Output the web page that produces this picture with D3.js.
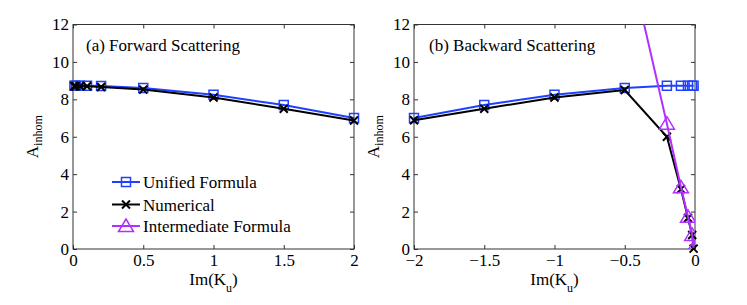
<!DOCTYPE html>
<html><head><meta charset="utf-8">
<script src="https://cdn.jsdelivr.net/npm/d3@7/dist/d3.min.js"></script>
<style>body{margin:0;background:#fff}svg{display:block}svg text{font-family:'Liberation Serif','Times New Roman',Times,serif !important;fill:#000}</style>
</head><body>
<script>
// ---- data ----
const fwdX = [0.01, 0.02, 0.05, 0.1, 0.2, 0.5, 1, 1.5, 2];
const fwdUnified = [8.72, 8.72, 8.72, 8.72, 8.71, 8.6, 8.24, 7.7, 7.0];
const fwdNumerical = [8.7, 8.7, 8.7, 8.7, 8.66, 8.52, 8.1, 7.5, 6.87];

const bwdX = [-2, -1.5, -1, -0.5, -0.2, -0.1, -0.05, -0.02, -0.01];
const bwdUnified = [7.0, 7.7, 8.25, 8.6, 8.72, 8.72, 8.72, 8.72, 8.72];
const bwdNumerical = [6.88, 7.5, 8.1, 8.5, 6.0, 3.2, 1.66, 0.75, 0.02];
const bwdIntermediate = [66, 49.5, 33, 16.5, 6.7, 3.3, 1.72, 0.75, 0.06];
const bwdIntermediateShown = [false, false, false, false, true, true, true, true, true];

const yTicks = [0, 2, 4, 6, 8, 10, 12];
const fwdXTicks = [0, 0.5, 1, 1.5, 2];
const fwdXTickLabels = ["0", "0.5", "1", "1.5", "2"];
const bwdXTicks = [-2, -1.5, -1, -0.5, 0];
const bwdXTickLabels = ["\u22122", "\u22121.5", "\u22121", "\u22120.5", "0"];

const seriesNames = ["Unified Formula", "Numerical", "Intermediate Formula"];
const titles = ["(a) Forward Scattering", "(b) Backward Scattering"];

// ---- style ----
const W = 747, H = 305;
const BLUE = "#2040ff", BLACK = "#000", PURPLE = "#b030ff";
const FS = 17;
const FONT = "'Liberation Serif','Times New Roman',Times,serif";

const svg = d3.select("body").append("svg").attr("width", W).attr("height", H)
  .attr("font-family", FONT);
svg.append("rect").attr("width", W).attr("height", H).attr("fill", "#fff");

const plotTop = 24.5, plotBottom = 249;
const panels = [
  {left: 73, right: 354, domain: [0, 2], ticks: fwdXTicks, labels: fwdXTickLabels, title: titles[0], tdx: 13},
  {left: 414, right: 695, domain: [-2, 0], ticks: bwdXTicks, labels: bwdXTickLabels, title: titles[1], tdx: 15}
];

const markerSquare = "M-4.5,-4.5H4.5V4.5H-4.5Z";
const markerX = "M-4,-4L4,4M-4,4L4,-4";
const markerTri = "M0,-7L7.5,5.5H-7.5Z";

panels.forEach((p, i) => {
  const x = d3.scaleLinear().domain(p.domain).range([p.left, p.right]);
  const y = d3.scaleLinear().domain([0, 12]).range([plotBottom, plotTop]);
  p.x = x; p.y = y;
  const g = svg.append("g");

  const fmt = (d) => p.labels[p.ticks.indexOf(d)];
  const axB = g.append("g").attr("transform", `translate(0,${plotBottom})`)
    .call(d3.axisBottom(x).tickValues(p.ticks).tickFormat(fmt).tickSizeInner(-4).tickSizeOuter(0).tickPadding(5));
  const axT = g.append("g").attr("transform", `translate(0,${plotTop})`)
    .call(d3.axisTop(x).tickValues(p.ticks).tickFormat("").tickSizeInner(-4).tickSizeOuter(0));
  const axL = g.append("g").attr("transform", `translate(${p.left},0)`)
    .call(d3.axisLeft(y).tickValues(yTicks).tickFormat(d3.format("d")).tickSizeInner(-4).tickSizeOuter(0).tickPadding(4));
  const axR = g.append("g").attr("transform", `translate(${p.right},0)`)
    .call(d3.axisRight(y).tickValues(yTicks).tickFormat("").tickSizeInner(-4).tickSizeOuter(0));
  [axB, axT, axL, axR].forEach(a => {
    a.attr("font-family", FONT).attr("font-size", FS);
    a.selectAll("path.domain").remove();
    a.selectAll("line").attr("stroke", "#333");
    a.selectAll("text").attr("font-family", FONT).attr("font-size", FS).attr("fill", "#000");
  });
  g.append("rect").attr("x", p.left).attr("y", plotTop).attr("width", p.right - p.left).attr("height", plotBottom - plotTop)
    .attr("fill", "none").attr("stroke", "#333").attr("stroke-width", 1);

  // title
  g.append("text").attr("x", p.left + p.tdx).attr("y", 51).attr("font-family", FONT).attr("font-size", FS).text(p.title);

  // y label
  const yl = g.append("text").attr("transform", `translate(${p.left - 35},${(plotTop + plotBottom) / 2}) rotate(-90)`)
    .attr("text-anchor", "middle").attr("font-family", FONT).attr("font-size", FS);
  yl.append("tspan").text("A");
  yl.append("tspan").attr("dy", 4).attr("font-size", 12).text("inhom");

  // x label
  const xl = g.append("text").attr("x", (p.left + p.right) / 2).attr("y", 285)
    .attr("text-anchor", "middle").attr("font-family", FONT).attr("font-size", FS);
  xl.append("tspan").text("Im(K");
  xl.append("tspan").attr("dy", 7).attr("font-size", 12).text("u");
  xl.append("tspan").attr("dy", -7).text(")");

  // clip
  svg.append("clipPath").attr("id", "clip" + i).append("rect")
    .attr("x", p.left).attr("y", plotTop).attr("width", p.right - p.left).attr("height", plotBottom - plotTop);
});

function drawSeries(p, xs, ys, color, marker, mw, shown, clipId) {
  const g = svg.append("g");
  if (clipId) g.attr("clip-path", `url(#${clipId})`);
  const line = d3.line().x((d, i) => p.x(xs[i])).y(d => p.y(d));
  g.append("path").datum(ys).attr("d", line).attr("fill", "none").attr("stroke", color).attr("stroke-width", 2);
  ys.forEach((v, i) => {
    if (shown && !shown[i]) return;
    g.append("path").attr("d", marker).attr("transform", `translate(${p.x(xs[i])},${p.y(v)})`)
      .attr("fill", "none").attr("stroke", color).attr("stroke-width", mw);
  });
}

drawSeries(panels[0], fwdX, fwdUnified, BLUE, markerSquare, 1.5);
drawSeries(panels[0], fwdX, fwdNumerical, BLACK, markerX, 2);

drawSeries(panels[1], bwdX, bwdUnified, BLUE, markerSquare, 1.5);
drawSeries(panels[1], bwdX, bwdNumerical, BLACK, markerX, 2);
drawSeries(panels[1], bwdX, bwdIntermediate, PURPLE, markerTri, 1.5, bwdIntermediateShown, "clip1");

// legend (left panel)
const legRows = [182, 204.5, 226];
const legColors = [BLUE, BLACK, PURPLE];
const legMarkers = [markerSquare, markerX, markerTri];
const legMW = [1.5, 2, 1.5];
const lg = svg.append("g");
seriesNames.forEach((name, i) => {
  lg.append("line").attr("x1", 112).attr("x2", 140).attr("y1", legRows[i]).attr("y2", legRows[i])
    .attr("stroke", legColors[i]).attr("stroke-width", 2);
  lg.append("path").attr("d", legMarkers[i]).attr("transform", `translate(126,${legRows[i]})`)
    .attr("fill", "none").attr("stroke", legColors[i]).attr("stroke-width", legMW[i]);
  lg.append("text").attr("x", 143).attr("y", legRows[i] + 6).attr("font-family", FONT).attr("font-size", FS).text(name);
});
</script>
</body></html>
